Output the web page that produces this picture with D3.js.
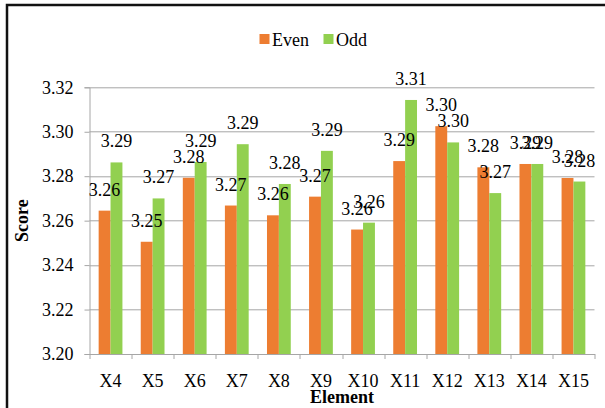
<!DOCTYPE html>
<html>
<head>
<meta charset="utf-8">
<script src="https://cdn.jsdelivr.net/npm/d3@7"></script>
<style>
  html, body { margin: 0; padding: 0; background: #fff; }
  svg { display: block; }
  svg text { font-family: "Liberation Serif", "Times New Roman", serif !important; fill: #000; }
</style>
</head>
<body>
<svg id="chart" width="605" height="408"></svg>
<script>
// Scores per element, split by even / odd
const categories = ["X4", "X5", "X6", "X7", "X8", "X9", "X10", "X11", "X12", "X13", "X14", "X15"];
const seriesNames = ["Even", "Odd"];
const evenValues = [3.2645, 3.2505, 3.2793, 3.2668, 3.2624, 3.2708, 3.2560, 3.2868, 3.3025, 3.2840, 3.2855, 3.2792];
const oddValues  = [3.2862, 3.2700, 3.2864, 3.2944, 3.2765, 3.2914, 3.2591, 3.3143, 3.2952, 3.2724, 3.2855, 3.2776];
const yTicks = [3.20, 3.22, 3.24, 3.26, 3.28, 3.30, 3.32];
const colors = { Even: "#ED7D31", Odd: "#92D050" };

const FONT = "'Liberation Serif', 'Times New Roman', serif";

const svg = d3.select("#chart");
const W = 605, H = 408;
const margin = { top: 87.3, right: 10.5, bottom: 54, left: 89.5 };
const innerW = W - margin.left - margin.right;
const innerH = H - margin.top - margin.bottom;

// Outer chart frame
svg.append("rect")
  .attr("x", 7).attr("y", 5)
  .attr("width", 640).attr("height", 440)
  .attr("fill", "none").attr("stroke", "#111").attr("stroke-width", 2.5);

const g = svg.append("g").attr("transform", `translate(${margin.left},${margin.top})`);

const x = d3.scaleBand().domain(categories).range([0, innerW]).padding(0);
const x1 = d3.scaleBand().domain(seriesNames).range([0, x.bandwidth()]).paddingInner(0).paddingOuter(0.77);
const y = d3.scaleLinear().domain([3.20, 3.32]).range([innerH, 0]);

// Horizontal gridlines
g.append("g")
  .selectAll("line")
  .data(yTicks.slice(1))
  .join("line")
  .attr("x1", 0).attr("x2", innerW)
  .attr("y1", d => Math.round(y(d)) + 0.5).attr("y2", d => Math.round(y(d)) + 0.5)
  .attr("stroke", "#A6A6A6").attr("stroke-width", 1);

// Y axis
const yAxis = g.append("g")
  .attr("font-family", null)
  .call(d3.axisLeft(y).tickValues(yTicks).tickFormat(d3.format(".2f")).tickSize(5).tickPadding(11));
yAxis.attr("font-family", FONT).attr("font-size", 18);
yAxis.select(".domain").attr("stroke", "#A6A6A6");
yAxis.selectAll(".tick line").attr("stroke", "#A6A6A6");
yAxis.selectAll(".tick text")
  .style("font-family", FONT)
  .style("font-size", "18px")
  .attr("fill", "#000");

// Bars
const rows = categories.map((c, i) => ({ cat: c, Even: evenValues[i], Odd: oddValues[i] }));
const groups = g.append("g").selectAll("g")
  .data(rows)
  .join("g")
  .attr("transform", d => `translate(${x(d.cat)},0)`);

groups.selectAll("rect")
  .data(d => seriesNames.map(s => ({ s, v: d[s] })))
  .join("rect")
  .attr("x", d => x1(d.s))
  .attr("width", x1.bandwidth())
  .attr("y", d => y(d.v))
  .attr("height", d => innerH - y(d.v))
  .attr("fill", d => colors[d.s]);

// X axis
const xAxis = g.append("g")
  .attr("transform", `translate(0,${innerH})`)
  .call(d3.axisBottom(x).tickSize(0).tickPadding(20));
xAxis.attr("font-family", FONT).attr("font-size", 18);
xAxis.select(".domain").attr("stroke", "#A6A6A6");
xAxis.selectAll(".tick text")
  .style("font-family", FONT)
  .style("font-size", "18px")
  .attr("fill", "#000");
// Category separator ticks
g.append("g")
  .selectAll("line")
  .data(d3.range(categories.length + 1))
  .join("line")
  .attr("x1", i => Math.round(i * x.step()) + 0.5)
  .attr("x2", i => Math.round(i * x.step()) + 0.5)
  .attr("y1", innerH).attr("y2", innerH + 5)
  .attr("stroke", "#A6A6A6");

// Value labels (series drawn in order so Odd labels sit on top)
seriesNames.forEach(s => {
  g.append("g").selectAll("text")
    .data(rows)
    .join("text")
    .attr("x", d => x(d.cat) + x1(s) + x1.bandwidth() / 2)
    .attr("y", d => y(d[s]) - 15)
    .attr("text-anchor", "middle")
    .style("font-family", FONT)
    .style("font-size", "18px")
    .text(d => d3.format(".2f")(d[s]));
});

// Axis titles
svg.append("text")
  .attr("x", margin.left + innerW / 2)
  .attr("y", 403)
  .attr("text-anchor", "middle")
  .style("font-family", FONT)
  .style("font-size", "18px")
  .style("font-weight", "bold")
  .text("Element");

svg.append("text")
  .attr("transform", `translate(28,${margin.top + innerH / 2}) rotate(-90)`)
  .attr("text-anchor", "middle")
  .style("font-family", FONT)
  .style("font-size", "18px")
  .style("font-weight", "bold")
  .text("Score");

// Legend
const legend = svg.append("g");
const legendItems = [
  { name: "Even", x: 259.5 },
  { name: "Odd", x: 323.5 }
];
legendItems.forEach(item => {
  legend.append("rect")
    .attr("x", item.x).attr("y", 34)
    .attr("width", 10).attr("height", 10)
    .attr("fill", colors[item.name]);
  legend.append("text")
    .attr("x", item.x + 12.5).attr("y", 45.5)
    .style("font-family", FONT)
    .style("font-size", "18px")
    .text(item.name);
});
</script>
</body>
</html>
